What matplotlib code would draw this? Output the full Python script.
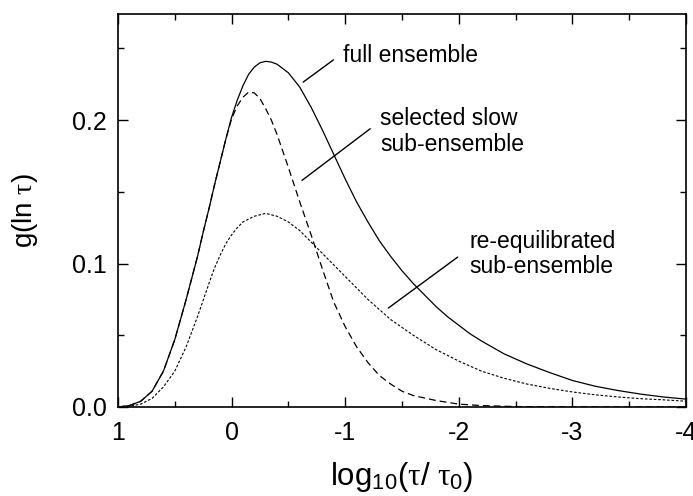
import numpy as np
import matplotlib
matplotlib.use('Agg')
import matplotlib.pyplot as plt

## Data: log10(tau/tau0) and g(ln tau)
x_full = [1.0, 0.9, 0.8, 0.7, 0.6, 0.5, 0.4, 0.3, 0.25, 0.2, 0.15, 0.1, 0.05, 0.0,
          -0.05, -0.1, -0.15, -0.2, -0.25, -0.3, -0.35, -0.4, -0.5, -0.6, -0.7,
          -0.8, -0.9, -1.0, -1.1, -1.2, -1.3, -1.4, -1.5, -1.6, -1.7, -1.8, -1.9,
          -2.0, -2.1, -2.2, -2.4, -2.6, -2.8, -3.0, -3.2, -3.4, -3.6, -3.8, -4.0]
g_full = [0.0, 0.001, 0.004, 0.011, 0.025, 0.047, 0.075, 0.105, 0.122, 0.138, 0.155,
          0.171, 0.187, 0.202, 0.214, 0.224, 0.232, 0.237, 0.240, 0.241, 0.2405,
          0.239, 0.233, 0.223, 0.209, 0.193, 0.176, 0.159, 0.143, 0.129, 0.116,
          0.105, 0.095, 0.086, 0.078, 0.070, 0.063, 0.057, 0.051, 0.046, 0.037,
          0.030, 0.024, 0.0185, 0.0145, 0.0115, 0.009, 0.007, 0.0055]

x_slow = [1.0, 0.9, 0.8, 0.7, 0.6, 0.5, 0.4, 0.3, 0.25, 0.2, 0.15, 0.1, 0.05, 0.0,
          -0.05, -0.1, -0.15, -0.2, -0.25, -0.3, -0.35, -0.4, -0.5, -0.6, -0.7,
          -0.8, -0.9, -1.0, -1.1, -1.2, -1.3, -1.4, -1.5, -1.6, -1.8, -2.0, -2.2,
          -2.5, -3.0, -3.5, -4.0]
g_slow = [0.0, 0.001, 0.004, 0.011, 0.025, 0.047, 0.075, 0.105, 0.122, 0.138, 0.155,
          0.171, 0.187, 0.201, 0.210, 0.216, 0.2195, 0.219, 0.215, 0.208, 0.200,
          0.190, 0.167, 0.143, 0.120, 0.096, 0.073, 0.056, 0.042, 0.031, 0.022,
          0.016, 0.011, 0.008, 0.0045, 0.002, 0.001, 0.0003, 0.0, 0.0, 0.0]

x_reeq = [1.0, 0.9, 0.8, 0.7, 0.6, 0.5, 0.4, 0.3, 0.2, 0.15, 0.1, 0.05, 0.0, -0.05,
          -0.1, -0.2, -0.3, -0.4, -0.5, -0.6, -0.7, -0.8, -0.9, -1.0, -1.2, -1.4,
          -1.6, -1.8, -2.0, -2.2, -2.4, -2.6, -2.8, -3.0, -3.2, -3.4, -3.6, -3.8,
          -4.0]
g_reeq = [0.0, 0.0005, 0.002, 0.006, 0.014, 0.025, 0.042, 0.063, 0.086, 0.097, 0.106,
          0.114, 0.120, 0.125, 0.129, 0.133, 0.135, 0.133, 0.129, 0.123, 0.115,
          0.107, 0.099, 0.091, 0.075, 0.061, 0.050, 0.040, 0.032, 0.025, 0.020,
          0.016, 0.013, 0.0105, 0.0085, 0.007, 0.0058, 0.005, 0.004]

x_ticks = [1, 0, -1, -2, -3, -4]
x_ticklabels = ['1', '0', '-1', '-2', '-3', '-4']
y_ticks = [0.0, 0.1, 0.2]
y_ticklabels = ['0.0', '0.1', '0.2']

plt.rcParams['font.family'] = ['Liberation Sans', 'DejaVu Sans']
plt.rcParams['mathtext.fontset'] = 'custom'
plt.rcParams['mathtext.rm'] = 'Liberation Sans'
plt.rcParams['mathtext.it'] = 'Liberation Serif'

fig = plt.figure(figsize=(6.93, 4.96), dpi=100)
ax = fig.add_axes([118/693, 1-407/496, 568/693, 393/496])

ax.plot(x_full, g_full, color='k', lw=0.9, linestyle='-')
ax.plot(x_slow, g_slow, color='k', lw=0.9, linestyle=(0, (5.5, 3.2)))
ax.plot(x_reeq, g_reeq, color='k', lw=0.8, linestyle=(0, (2.4, 1.6)))

ax.set_xlim(1, -4)
ax.set_ylim(0, 0.274)

ax.set_xticks(x_ticks)
ax.set_xticklabels(x_ticklabels)
ax.set_xticks(np.arange(0.5, -4.0, -1.0), minor=True)
ax.set_yticks(y_ticks)
ax.set_yticklabels(y_ticklabels)
ax.set_yticks([0.05, 0.15, 0.25], minor=True)

ax.tick_params(which='both', direction='in', top=True, right=True, labelsize=18, width=1.0)
ax.tick_params(which='major', length=7)
ax.tick_params(which='minor', length=4)
ax.tick_params(axis='x', which='major', pad=10)
ax.tick_params(axis='y', which='major', pad=8)
for s in ax.spines.values():
   s.set_linewidth(1.2)

ax.set_xlabel(r'log$_{\mathrm{10}}$($\tau$/ $\tau_{\mathrm{0}}$)', fontsize=22.5)
ax.xaxis.set_label_coords(0.5, -0.135)
ax.set_ylabel(r'g(ln $\tau$)', fontsize=20)
ax.yaxis.set_label_coords(-0.138, 0.5)

# Annotation leaders and labels
lead = dict(arrowstyle='-', color='k', lw=1.0, shrinkA=0, shrinkB=0)
ax.annotate('', xy=(-0.63, 0.2265), xytext=(-0.896, 0.242), arrowprops=lead)
ax.text(-0.984, 0.245, 'full ensemble', fontsize=16.5, ha='left', va='center')
ax.annotate('', xy=(-0.62, 0.158), xytext=(-1.22, 0.194), arrowprops=lead)
ax.text(-1.31, 0.192, 'selected slow\nsub-ensemble', fontsize=16.5, ha='left', va='center', linespacing=1.15)
ax.annotate('', xy=(-1.38, 0.069), xytext=(-1.99, 0.1045), arrowprops=lead)
ax.text(-2.09, 0.1066, 're-equilibrated\nsub-ensemble', fontsize=16.5, ha='left', va='center', linespacing=1.15)

fig.savefig('out.png', dpi=100)
